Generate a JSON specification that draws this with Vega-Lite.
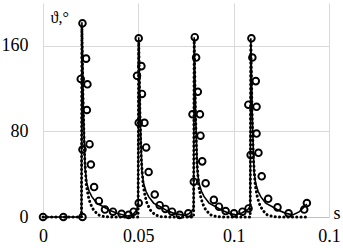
{
  "$schema": "https://vega.github.io/schema/vega-lite/v6.json",
  "width": 286,
  "height": 214,
  "autosize": "none",
  "padding": {"left": 43, "top": 3, "right": 14, "bottom": 31},
  "background": "white",
  "config": {
    "view": {"stroke": null},
    "font": "Liberation Serif",
    "axis": {
      "labelFont": "Liberation Serif",
      "titleFont": "Liberation Serif",
      "labelFontSize": 18,
      "titleFontSize": 18,
      "labelColor": "#000000",
      "titleColor": "#000000",
      "titleFontWeight": "normal",
      "ticks": false,
      "gridColor": "#d9d9d9",
      "gridWidth": 1
    }
  },
  "datasets": {
    "solid": [
      {"t": 0, "v": 0}, {"t": 0.0202, "v": 0}, {"t": 0.0204, "v": 182}, {"t": 0.0212, "v": 100}, {"t": 0.0221, "v": 45}, {"t": 0.023, "v": 31}, {"t": 0.0242, "v": 24}, {"t": 0.0256, "v": 19}, {"t": 0.0282, "v": 13}, {"t": 0.0317, "v": 9.6}, {"t": 0.0352, "v": 6}, {"t": 0.0388, "v": 3.4}, {"t": 0.0442, "v": 1}, {"t": 0.047, "v": 2}, {"t": 0.049, "v": 6}, {"t": 0.0499, "v": 12},
      {"t": 0.0502, "v": 168}, {"t": 0.051, "v": 92}, {"t": 0.0519, "v": 42}, {"t": 0.0528, "v": 31}, {"t": 0.054, "v": 24}, {"t": 0.0554, "v": 19}, {"t": 0.058, "v": 13}, {"t": 0.0615, "v": 9.6}, {"t": 0.065, "v": 6}, {"t": 0.0686, "v": 3.4}, {"t": 0.074, "v": 1.5}, {"t": 0.0765, "v": 3}, {"t": 0.0782, "v": 6}, {"t": 0.079, "v": 8},
      {"t": 0.0793, "v": 168}, {"t": 0.0801, "v": 92}, {"t": 0.081, "v": 42}, {"t": 0.0819, "v": 31}, {"t": 0.0831, "v": 24}, {"t": 0.0845, "v": 19}, {"t": 0.0871, "v": 13}, {"t": 0.0906, "v": 9.6}, {"t": 0.0941, "v": 6}, {"t": 0.0977, "v": 3.4}, {"t": 0.101, "v": 2}, {"t": 0.1045, "v": 4}, {"t": 0.1075, "v": 7}, {"t": 0.1087, "v": 10},
      {"t": 0.109, "v": 167}, {"t": 0.1098, "v": 92}, {"t": 0.1107, "v": 42}, {"t": 0.1116, "v": 31}, {"t": 0.1128, "v": 24}, {"t": 0.1142, "v": 19}, {"t": 0.1168, "v": 13}, {"t": 0.1203, "v": 9.6}, {"t": 0.1238, "v": 6}, {"t": 0.1274, "v": 3.4}, {"t": 0.131, "v": 2}, {"t": 0.1345, "v": 5}, {"t": 0.1384, "v": 12}
    ],
    "dotted": [
      {"t": 0, "v": 0}, {"t": 0.0202, "v": 0}, {"t": 0.0204, "v": 178}, {"t": 0.021, "v": 109}, {"t": 0.0217, "v": 60}, {"t": 0.0227, "v": 30}, {"t": 0.0238, "v": 19}, {"t": 0.0247, "v": 13}, {"t": 0.0265, "v": 6.5}, {"t": 0.029, "v": 2}, {"t": 0.0322, "v": 0.3}, {"t": 0.0362, "v": 0}, {"t": 0.0499, "v": 0},
      {"t": 0.0502, "v": 165}, {"t": 0.0508, "v": 101}, {"t": 0.0515, "v": 55}, {"t": 0.0525, "v": 30}, {"t": 0.0536, "v": 19}, {"t": 0.0545, "v": 13}, {"t": 0.0563, "v": 6.5}, {"t": 0.0588, "v": 2}, {"t": 0.062, "v": 0.3}, {"t": 0.066, "v": 0}, {"t": 0.079, "v": 0},
      {"t": 0.0793, "v": 165}, {"t": 0.0799, "v": 101}, {"t": 0.0806, "v": 55}, {"t": 0.0816, "v": 30}, {"t": 0.0827, "v": 19}, {"t": 0.0836, "v": 13}, {"t": 0.0854, "v": 6.5}, {"t": 0.0879, "v": 2}, {"t": 0.0911, "v": 0.3}, {"t": 0.0951, "v": 0}, {"t": 0.1087, "v": 0},
      {"t": 0.109, "v": 164}, {"t": 0.1096, "v": 100}, {"t": 0.1103, "v": 55}, {"t": 0.1113, "v": 30}, {"t": 0.1124, "v": 19}, {"t": 0.1133, "v": 13}, {"t": 0.1151, "v": 6.5}, {"t": 0.1176, "v": 2}, {"t": 0.1208, "v": 0.3}, {"t": 0.1248, "v": 0}, {"t": 0.1384, "v": 0}
    ],
    "circles": [
      {"t": 0, "v": 0}, {"t": 0.0107, "v": 0}, {"t": 0.0207, "v": 0}, {"t": 0.0207, "v": 181}, {"t": 0.0226, "v": 148}, {"t": 0.0198, "v": 129}, {"t": 0.0233, "v": 124}, {"t": 0.023, "v": 100}, {"t": 0.0207, "v": 63}, {"t": 0.0244, "v": 68}, {"t": 0.0251, "v": 49}, {"t": 0.0268, "v": 28}, {"t": 0.0293, "v": 15}, {"t": 0.0325, "v": 7}, {"t": 0.0367, "v": 5}, {"t": 0.0412, "v": 3}, {"t": 0.0449, "v": 2}, {"t": 0.0475, "v": 5},
      {"t": 0.0502, "v": 13}, {"t": 0.0502, "v": 167}, {"t": 0.0516, "v": 141}, {"t": 0.0493, "v": 132}, {"t": 0.0519, "v": 115}, {"t": 0.0502, "v": 88}, {"t": 0.0532, "v": 88}, {"t": 0.0541, "v": 65}, {"t": 0.0554, "v": 42}, {"t": 0.0586, "v": 21}, {"t": 0.0612, "v": 11}, {"t": 0.0642, "v": 7.5}, {"t": 0.0677, "v": 5}, {"t": 0.0717, "v": 2}, {"t": 0.0762, "v": 3.4},
      {"t": 0.0796, "v": 168}, {"t": 0.0803, "v": 149}, {"t": 0.0812, "v": 117}, {"t": 0.0784, "v": 96}, {"t": 0.0823, "v": 96}, {"t": 0.0826, "v": 76}, {"t": 0.0835, "v": 52}, {"t": 0.0791, "v": 33}, {"t": 0.0853, "v": 31.5}, {"t": 0.0896, "v": 16}, {"t": 0.0923, "v": 9.6}, {"t": 0.0958, "v": 5.6}, {"t": 0.1002, "v": 3.4}, {"t": 0.1046, "v": 5}, {"t": 0.1078, "v": 8},
      {"t": 0.1093, "v": 167}, {"t": 0.1098, "v": 149}, {"t": 0.1116, "v": 127}, {"t": 0.1077, "v": 105}, {"t": 0.112, "v": 103}, {"t": 0.112, "v": 78}, {"t": 0.1089, "v": 58}, {"t": 0.113, "v": 60}, {"t": 0.1147, "v": 38}, {"t": 0.1181, "v": 17}, {"t": 0.123, "v": 9}, {"t": 0.1288, "v": 3.4}, {"t": 0.137, "v": 7}, {"t": 0.1384, "v": 13}
    ]
  },
  "encoding": {
    "x": {
      "field": "t", "type": "quantitative",
      "scale": {"domain": [0, 0.15], "nice": false, "zero": false},
      "axis": {
        "values": [0, 0.05, 0.1, 0.15],
        "format": "~g",
        "grid": true,
        "domain": true,
        "domainColor": "#bfbfbf",
        "domainWidth": 1,
        "labelPadding": 10,
        "labelFlush": false,
        "title": "s",
        "titleAnchor": null,
        "titleAlign": "left",
        "titleBaseline": "alphabetic",
        "titleX": 290,
        "titleY": 1
      }
    },
    "y": {
      "field": "v", "type": "quantitative",
      "scale": {"domain": [0, 200], "nice": false},
      "axis": {
        "values": [0, 80, 160],
        "grid": true,
        "domain": false,
        "labelPadding": 15,
        "title": "ϑ,°",
        "titleFontSize": 16,
        "titleAngle": 0,
        "titleAlign": "left",
        "titleBaseline": "middle",
        "titleX": 7,
        "titleY": 14
      }
    }
  },
  "layer": [
    {
      "data": {"name": "dotted"},
      "mark": {"type": "line", "color": "#000000", "strokeWidth": 3, "strokeDash": [0.1, 4.2], "strokeCap": "round", "interpolate": "linear"}
    },
    {
      "data": {"name": "solid"},
      "mark": {"type": "line", "color": "#000000", "strokeWidth": 1.6, "interpolate": "linear"}
    },
    {
      "data": {"name": "circles"},
      "mark": {"type": "point", "shape": "circle", "filled": false, "color": "#000000", "size": 44, "strokeWidth": 1.9, "opacity": 1}
    }
  ]
}
